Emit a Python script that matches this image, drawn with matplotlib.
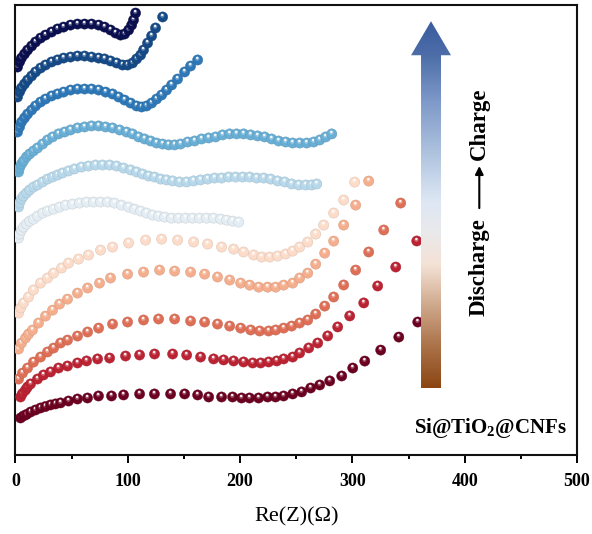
import numpy as np
import matplotlib
matplotlib.use('Agg')
import matplotlib.pyplot as plt
from matplotlib.patches import Polygon
from matplotlib.colors import LinearSegmentedColormap, to_rgba

plt.rcParams['font.family'] = ['Liberation Serif', 'DejaVu Serif']
plt.rcParams['mathtext.fontset'] = 'custom'
plt.rcParams['mathtext.rm'] = 'Liberation Serif'
plt.rcParams['mathtext.bf'] = 'Liberation Serif:bold'

# ---------------- data (Z' in ohm, -Z'' in ohm, stacked with offsets) ----------------
zre_1 = [1.8, 3.6, 5.3, 8.0, 10.7, 14.3, 17.8, 22.3, 26.7, 32.1, 37.4, 42.8, 49.0, 55.2, 61.5,
         67.7, 74.0, 79.3, 84.6, 89.1, 93.6, 97.1, 100.7, 103.4, 105.1, 106.9]
zim_1 = [0, 4.5, 8.0, 11.6, 15.1, 18.7, 22.3, 25.8, 28.5, 31.2, 33.9, 35.6, 37.4, 38.3, 38.3,
         38.3, 37.4, 35.6, 33.0, 30.3, 28.5, 29.4, 33.0, 37.4, 41.9, 48.1]

zre_2 = [1.8, 3.6, 5.3, 8.0, 10.7, 14.3, 17.8, 22.3, 26.7, 32.1, 37.4, 42.8, 49.0, 55.2, 61.5,
         67.7, 74.0, 79.3, 84.6, 90.0, 95.3, 99.8, 104.2, 107.8, 111.4, 114.0, 117.6, 121.2, 124.7, 131.0]
zim_2 = [0, 4.5, 8.0, 11.6, 15.1, 18.7, 22.3, 25.8, 28.5, 31.2, 33.0, 34.7, 35.6, 36.5, 36.5,
         35.6, 34.7, 33.9, 32.1, 30.3, 28.5, 28.5, 30.3, 33.9, 37.4, 41.9, 48.1, 54.4, 61.5, 71.3]

zre_3 = [1.8, 3.6, 5.3, 8.0, 10.7, 14.3, 17.8, 22.3, 26.7, 32.1, 37.4, 42.8, 49.0, 55.2, 61.5,
         67.7, 74.0, 80.2, 86.4, 91.8, 97.1, 102.5, 107.8, 112.3, 116.7, 121.2, 125.6, 130.1,
         134.5, 139.0, 144.3, 150.6, 155.9, 162.2]
zim_3 = [0, 4.5, 8.9, 12.5, 16.0, 19.6, 23.2, 26.7, 29.4, 32.1, 33.9, 35.6, 37.4, 38.3, 38.3,
         38.3, 37.4, 35.6, 33.9, 31.2, 28.5, 25.8, 23.2, 22.3, 23.2, 25.8, 29.4, 33.0, 37.4,
         41.9, 47.2, 53.5, 58.8, 64.2]

zre_4 = [2.7, 3.6, 5.3, 7.1, 9.8, 12.5, 16.0, 19.6, 24.1, 28.5, 33.0, 38.3, 43.7, 49.0, 55.2,
         61.5, 67.7, 74.0, 80.2, 86.4, 92.7, 98.9, 104.2, 109.6, 114.9, 120.3, 125.6, 131.0,
         136.3, 141.7, 147.0, 153.3, 159.5, 165.7, 172.0, 178.2, 184.4, 190.7, 196.9, 203.1,
         209.4, 215.6, 221.9, 228.1, 234.3, 240.6, 246.8, 253.0, 259.3, 265.5, 270.9, 276.2, 281.6]
zim_4 = [0, 3.6, 7.1, 9.8, 13.4, 16.0, 18.7, 21.4, 24.9, 28.5, 31.2, 33.9, 35.6, 37.4, 39.2,
         40.1, 41.0, 41.0, 40.1, 39.2, 37.4, 35.6, 33.9, 31.2, 29.4, 27.6, 25.8, 24.9, 24.1,
         24.1, 24.9, 26.7, 27.6, 29.4, 30.3, 31.2, 33.0, 33.9, 33.9, 33.9, 33.0, 32.1, 31.2,
         29.4, 27.6, 26.7, 25.8, 25.8, 25.8, 26.7, 28.5, 31.2, 33.9]

zre_5 = [2.7, 3.6, 5.3, 7.1, 9.8, 12.5, 16.0, 19.6, 24.1, 28.5, 33.0, 37.4, 41.9, 47.2, 52.6,
         58.8, 65.0, 71.3, 77.5, 83.8, 90.0, 96.2, 102.5, 107.8, 113.2, 118.5, 123.8, 129.2,
         134.5, 139.9, 146.1, 152.4, 158.6, 164.8, 171.1, 177.3, 183.5, 189.8, 196.0, 202.3,
         208.5, 214.7, 221.0, 227.2, 233.4, 239.7, 245.9, 252.2, 258.4, 263.7, 268.2]
zim_5 = [0, 3.6, 7.1, 9.8, 12.5, 15.1, 17.8, 19.6, 22.3, 24.9, 26.7, 28.5, 30.3, 32.1, 33.9,
         35.6, 36.5, 37.4, 37.4, 37.4, 36.5, 34.7, 33.0, 31.2, 29.4, 27.6, 26.7, 24.9, 24.1,
         23.2, 22.3, 22.3, 23.2, 24.1, 24.9, 25.8, 25.8, 26.7, 26.7, 26.7, 26.7, 25.8, 25.8,
         24.9, 23.2, 22.3, 20.5, 19.6, 19.6, 19.6, 20.5]

zre_6 = [2.7, 3.6, 5.3, 7.1, 9.8, 12.5, 16.0, 19.6, 24.1, 28.5, 33.9, 39.2, 44.6, 50.8, 57.0,
         63.3, 69.5, 75.7, 82.0, 88.2, 94.4, 100.7, 106.0, 111.4, 116.7, 122.1, 127.4, 132.8,
         139.0, 145.2, 151.5, 157.7, 163.9, 170.2, 176.4, 182.7, 188.0, 193.3, 198.7]
zim_6 = [0, 3.6, 7.1, 9.8, 12.5, 15.1, 16.9, 19.6, 22.3, 24.1, 25.8, 27.6, 29.4, 30.3, 31.2,
         32.1, 32.1, 32.1, 32.1, 31.2, 29.4, 27.6, 25.8, 24.1, 22.3, 20.5, 19.6, 18.7, 17.8,
         17.8, 17.8, 17.8, 17.8, 17.8, 17.8, 16.9, 16.0, 15.1, 14.3]

zre_7 = [2.7, 4.5, 7.1, 11.6, 16.0, 22.3, 28.5, 33.9, 41.0, 47.2, 56.1, 65.0, 75.7, 86.4, 100.7,
         115.8, 130.1, 144.3, 158.6, 171.1, 183.5, 194.2, 203.1, 212.1, 219.2, 226.3, 233.4,
         240.6, 246.8, 253.0, 260.2, 267.3, 274.4, 283.3, 292.2, 302.0]
zim_7 = [0, 4.5, 8.9, 14.3, 20.5, 26.7, 31.2, 35.6, 40.1, 44.5, 48.1, 51.7, 56.1, 58.8, 62.4,
         65.0, 65.9, 65.0, 63.3, 61.5, 58.8, 57.0, 54.4, 51.7, 49.9, 49.9, 50.8, 52.6, 55.2,
         58.8, 63.3, 70.4, 78.4, 89.1, 100.7, 116.7]

zre_8 = [2.7, 5.3, 8.9, 11.6, 15.1, 20.5, 26.7, 33.0, 39.2, 46.3, 55.2, 64.2, 74.8, 84.6, 99.8,
         114.0, 128.3, 141.7, 155.9, 168.4, 179.9, 190.7, 200.5, 208.5, 216.5, 224.5, 231.7,
         238.8, 246.8, 253.0, 260.2, 267.3, 275.3, 283.3, 292.2, 302.9, 314.5]
zim_8 = [0, 5.3, 9.8, 13.4, 16.9, 23.2, 29.4, 34.7, 40.1, 44.5, 49.9, 54.4, 58.8, 63.3, 66.8,
         68.6, 70.4, 69.5, 68.6, 66.8, 64.2, 61.5, 58.8, 57.0, 55.2, 55.2, 55.2, 57.0, 58.8,
         63.3, 67.7, 75.7, 85.5, 96.2, 110.5, 128.3, 149.7]

zre_9 = [2.7, 6.2, 10.7, 16.0, 22.3, 28.5, 33.9, 40.1, 46.3, 55.2, 64.2, 74.0, 86.4, 99.8, 114.0,
         127.4, 141.7, 155.9, 168.4, 179.9, 190.7, 200.5, 209.4, 217.4, 225.4, 231.7, 238.8,
         245.9, 253.0, 260.2, 267.3, 275.3, 283.3, 292.2, 302.9, 314.5, 327.9, 343.0]
zim_9 = [0, 5.3, 9.8, 15.1, 19.6, 24.1, 27.6, 32.1, 34.7, 38.3, 41.9, 45.4, 49.0, 50.8, 52.6,
         53.5, 53.5, 51.7, 50.8, 49.0, 47.2, 45.4, 43.7, 42.8, 42.8, 43.7, 45.4, 47.2, 49.9,
         52.6, 57.9, 65.0, 73.1, 83.8, 97.1, 113.2, 132.8, 156.8]

zre_10 = [4.5, 6.2, 8.9, 10.7, 13.4, 19.6, 24.9, 31.2, 38.3, 46.3, 55.2, 63.3, 73.1, 83.8, 98.0,
          110.5, 123.8, 139.9, 152.4, 164.8, 176.4, 185.3, 194.2, 203.1, 211.2, 218.3, 225.4,
          232.6, 238.8, 246.8, 253.0, 261.1, 269.1, 278.0, 286.9, 297.6, 310.1, 322.5, 338.6, 357.3]
zim_10 = [0, 3.1, 6.2, 8.9, 11.6, 16.0, 19.6, 22.3, 25.8, 27.6, 30.3, 32.1, 33.9, 34.7, 36.5,
          37.4, 38.3, 38.3, 37.4, 35.6, 33.9, 33.0, 32.1, 31.2, 30.3, 30.3, 31.2, 32.1, 33.9,
          35.6, 39.2, 43.7, 48.1, 54.4, 62.4, 72.2, 83.8, 98.9, 115.8, 139.0]

zre_11 = [4.5, 7.1, 9.8, 13.4, 17.8, 22.3, 26.7, 31.2, 35.6, 40.1, 47.2, 55.2, 64.1, 73.9, 85.5,
          96.2, 110.5, 123.7, 138.1, 150.6, 162.2, 172.0, 183.5, 193.3, 201.3, 208.4, 216.5,
          224.5, 231.6, 238.7, 246.8, 254.8, 262.8, 270.9, 279.8, 290.5, 300.3, 311.0, 325.2,
          341.3, 358.2]
zim_11 = [0, 1.8, 3.1, 5.3, 7.1, 8.9, 10.2, 11.6, 12.5, 13.4, 15.1, 16.9, 17.8, 19.6, 19.6,
          20.5, 21.4, 21.4, 21.4, 21.4, 20.5, 18.7, 18.7, 18.7, 17.8, 17.8, 17.8, 18.7, 18.7,
          19.6, 21.4, 23.2, 26.7, 29.4, 33.0, 37.4, 44.5, 50.7, 60.5, 72.1, 85.5]

offsets = [345.7, 319.0, 287.8, 252.2, 221.0, 193.3, 126.5, 94.4, 67.7, 51.7, 33.0]
colors = ['#0a0f4f', '#154a87', '#2e78b7', '#69aed5', '#b7d8ea', '#e3edf3',
          '#fcdcc9', '#f5ae8d', '#de6f56', '#bb2232', '#6b0020']

zre_all = [zre_1, zre_2, zre_3, zre_4, zre_5, zre_6, zre_7, zre_8, zre_9, zre_10, zre_11]
zim_all = [zim_1, zim_2, zim_3, zim_4, zim_5, zim_6, zim_7, zim_8, zim_9, zim_10, zim_11]

xticks = [0, 100, 200, 300, 400, 500]
xminor = [50, 150, 250, 350, 450]

# ---------------- figure ----------------
fig = plt.figure(figsize=(5.92, 5.34), dpi=100)
ax = fig.add_axes([0.02618, 0.14794, 0.9485, 0.8436])
XMAX, YMAX = 500, 401.4
ax.set_xlim(0, XMAX)
ax.set_ylim(0, YMAX)

# data units per pixel
dpx = XMAX / (0.9485 * 592)
dpy = YMAX / (0.8436 * 534)

# spheres: base ball + small specular highlight, interleaved per point
for zr, zi, off, col in zip(zre_all[::-1], zim_all[::-1], offsets[::-1], colors[::-1]):
    x = np.asarray(zr, float)
    y = np.asarray(zi, float) + off
    n = len(x)
    X = np.empty(3 * n)
    Y = np.empty(3 * n)
    X[0::3] = x
    Y[0::3] = y
    X[1::3] = x - 0.3 * dpx
    Y[1::3] = y + 1.2 * dpy
    X[2::3] = x - 0.4 * dpx
    Y[2::3] = y + 2.0 * dpy
    S = np.tile([54.0, 9.0, 3.2], n)
    base = np.array(to_rgba(col))
    edge = base.copy()
    edge[:3] *= 0.85
    sheen = np.r_[0.5 * base[:3] + 0.5, 0.6]
    C = np.tile(np.vstack([base, sheen, [1, 1, 1, 0.9]]), (n, 1))
    E = np.tile(np.vstack([edge, [1, 1, 1, 0], [1, 1, 1, 0]]), (n, 1))
    ax.scatter(X, Y, s=S, c=C, edgecolors=E, linewidths=0.3, zorder=3)

# gradient arrow
ax_x = [361.1, 361.1, 352.2, 370.0, 387.8, 378.9, 378.9]
ax_y = [59.7, 356.2, 356.2, 386.5, 356.2, 356.2, 59.7]
poly = Polygon(np.c_[ax_x, ax_y], closed=True, facecolor='none', edgecolor='none', zorder=6)
ax.add_patch(poly)
stops = [(0.0, '#8b4513'), (0.13, '#b07a52'), (0.24, '#d4b096'), (0.335, '#f4e2d6'),
         (0.43, '#e9e9ec'), (0.51, '#dde7f4'), (0.62, '#b6c9e2'), (0.785, '#7d98c8'),
         (0.907, '#4d6ea9'), (1.0, '#3b5c9e')]
cmap = LinearSegmentedColormap.from_list('arr', stops)
grad = np.linspace(0, 1, 256)[:, None]
im = ax.imshow(grad, extent=[352.2, 387.8, 59.7, 386.5], origin='lower', cmap=cmap,
               aspect='auto', zorder=6, interpolation='bilinear')
im.set_clip_path(poly)
ax.set_xlim(0, XMAX)
ax.set_ylim(0, YMAX)

# axes styling
ax.set_xticks(xticks)
ax.set_xticks(xminor, minor=True)
ax.set_xticklabels([str(t) for t in xticks], fontweight='bold', fontsize=13)
ax.tick_params(axis='x', which='major', direction='out', length=5.8, width=1.4, pad=7)
ax.tick_params(axis='x', which='minor', direction='out', length=2.9, width=1.4)
ax.set_yticks([])
for s in ax.spines.values():
    s.set_linewidth(1.5)
    s.set_color('#111111')

ax.text(0.5, -0.148, 'Re(Z)(Ω)', transform=ax.transAxes, ha='center', va='baseline', fontsize=16)

ax.text(0.826, 0.4162, 'Discharge', rotation=90, ha='center', va='center', fontsize=16.5,
        fontweight='bold', transform=ax.transAxes, zorder=7)
ax.text(0.826, 0.7358, 'Charge', rotation=90, ha='center', va='center', fontsize=16.5,
        fontweight='bold', transform=ax.transAxes, zorder=7)
ax.annotate('', xy=(0.826, 0.6415), xytext=(0.826, 0.548), xycoords='axes fraction',
            arrowprops=dict(arrowstyle='-|>', color='black', lw=1.5, mutation_scale=12,
                            shrinkA=0, shrinkB=0), zorder=7)
ax.text(0.845, 0.0488, r'Si@TiO$_{\mathbf{2}}$@CNFs', ha='center', va='baseline', fontsize=15,
        fontweight='bold', transform=ax.transAxes, zorder=7)

fig.savefig('out.png', dpi=100)
